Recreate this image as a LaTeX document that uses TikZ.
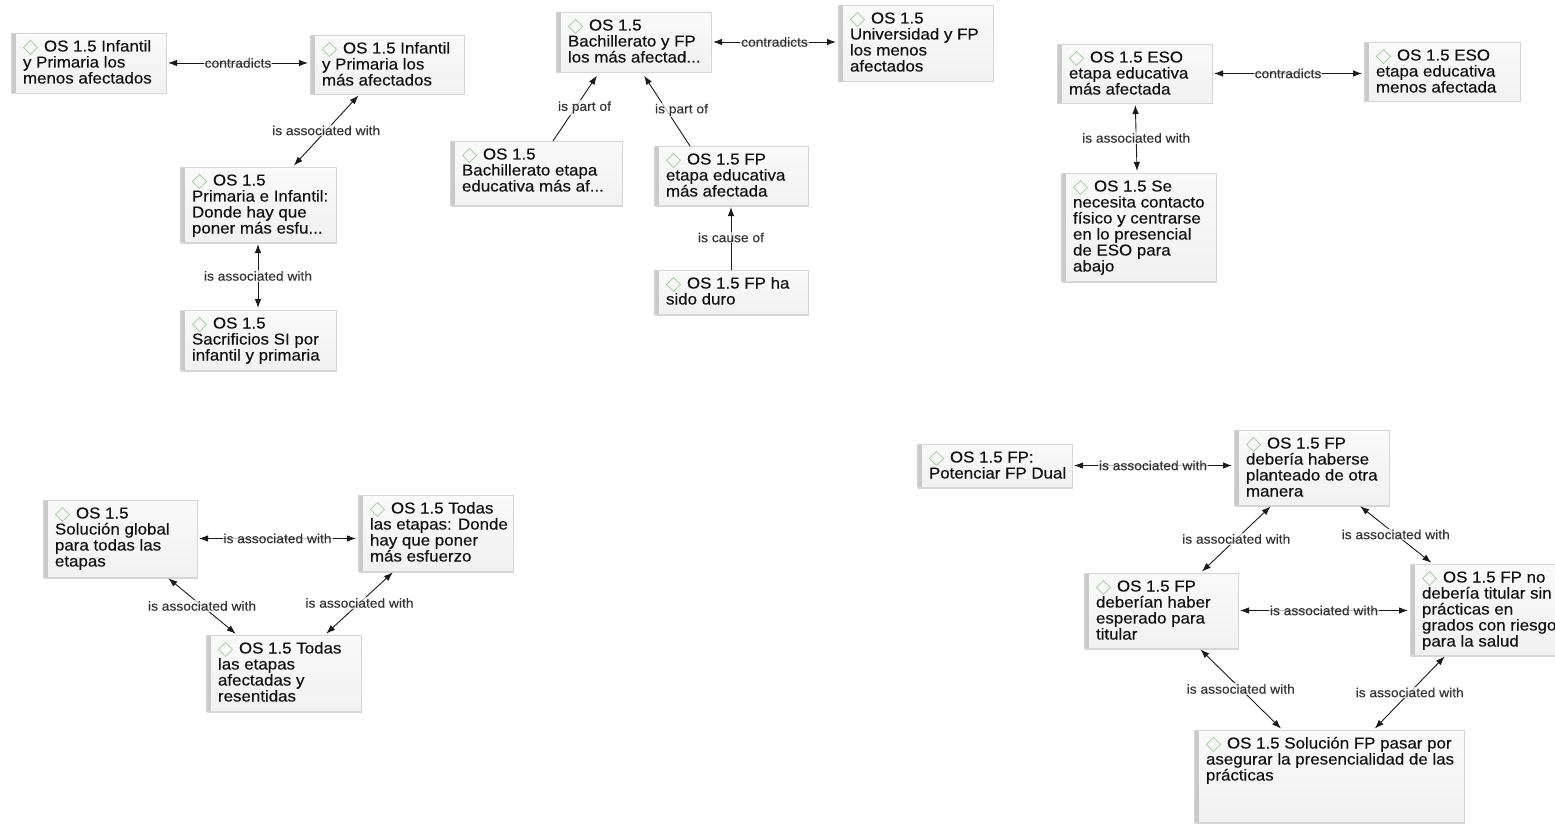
\documentclass[tikz,border=0pt]{standalone}
\usepackage{fontspec}
\setmainfont{Liberation Sans}[FakeStretch=1.06]
\newfontfamily\cardfont{Liberation Sans}[FakeStretch=1.07,FakeBold=0.35]
\newfontfamily\lblfont{Liberation Sans}[FakeStretch=1.06,FakeBold=0.15]
\usetikzlibrary{arrows.meta,calc,shadows}

\definecolor{cardline}{HTML}{D6D6D6}
\definecolor{cardtop}{HTML}{FAFAFA}
\definecolor{cardbot}{HTML}{F1F1F1}
\definecolor{cardbar}{HTML}{CACACA}
\definecolor{cardtxt}{HTML}{111111}
\definecolor{diamcol}{HTML}{ACD4A4}
\definecolor{edgecol}{HTML}{1A1A1A}
\definecolor{lblcol}{HTML}{333333}

\tikzset{
  card/.style={draw=cardline, line width=0.6pt, top color=cardtop, bottom color=cardbot,
    inner sep=0pt, outer sep=0pt, anchor=north west, text=cardtxt,
    font=\cardfont\fontsize{15.8}{16}\selectfont,
    path picture={\fill[cardbar] (path picture bounding box.north west)
      rectangle ([xshift=5pt]path picture bounding box.south west);},
    drop shadow={shadow xshift=1pt, shadow yshift=-1.5pt, opacity=0.16, fill=black}},
  diam/.style={draw=diamcol, line width=0.8pt, line join=miter},
  tipA/.tip={Latex[length=9pt,width=6.5pt]},
  both/.style={draw=edgecol, line width=0.9pt, tipA-tipA, shorten <=2pt, shorten >=2pt},
  onedir/.style={draw=edgecol, line width=0.9pt, -tipA, shorten >=2pt},
  lbl/.style={font=\lblfont\fontsize{13}{14}\selectfont, text=lblcol, fill=white,
    fill opacity=0.7, text opacity=1, inner sep=1pt}
}

% text block of a card: grey bar margin on the left, first line leaves room for the diamond
\newcommand\mycardtext[3]{\kern12pt\parbox[t][#2pt][t]{\dimexpr#1pt-16pt\relax}{\raggedright\rule{0pt}{18.5pt}\hspace*{21pt}#3}\kern4pt}
% card: name, x, y, width, height, text
\newcommand\mycard[6]{%
  \node[card] (#1) at (#2,#3) {\mycardtext{#4}{#5}{#6}};
  \draw[diam] ($(#1.north west)+(19.5,7.5)$) -- ++(7,7) -- ++(-7,7) -- ++(-7,-7) -- cycle;
}

\begin{document}
\begin{tikzpicture}[x=1pt,y=-1pt]
\useasboundingbox (0,0) rectangle (1555,824);

% infantil / primaria
\mycard{a1}{11}{33}{155}{60}{OS 1.5 Infantil\\y Primaria los\\menos afectados}
\mycard{a2}{310}{35}{154}{59}{OS 1.5 Infantil\\y Primaria los\\más afectados}
\mycard{a3}{180}{167}{156}{75}{OS 1.5\\Primaria e Infantil:\\Donde hay que\\poner más esfu...}
\mycard{a4}{180}{310}{156}{60}{OS 1.5\\Sacrificios SI por\\infantil y primaria}

% bachillerato / FP
\mycard{b1}{556}{12}{155}{60}{OS 1.5\\Bachillerato y FP\\los más afectad...}
\mycard{b2}{838}{5}{155}{76}{OS 1.5\\Universidad y FP\\los menos\\afectados}
\mycard{b3}{450}{141}{172}{64}{OS 1.5\\Bachillerato etapa\\educativa más af...}
\mycard{b4}{654}{146}{154}{59}{OS 1.5 FP\\etapa educativa\\más afectada}
\mycard{b5}{654}{270}{154}{44}{OS 1.5 FP ha\\sido duro}

% ESO
\mycard{c1}{1057}{44}{155}{59}{OS 1.5 ESO\\etapa educativa\\más afectada}
\mycard{c2}{1364}{42}{156}{59}{OS 1.5 ESO\\etapa educativa\\menos afectada}
\mycard{c3}{1061}{173}{155}{108}{OS 1.5 Se\\necesita contacto\\físico y centrarse\\en lo presencial\\de ESO para\\abajo}

% todas las etapas
\mycard{d1}{43}{500}{154}{77}{OS 1.5\\Solución global\\para todas las\\etapas}
\mycard{d2}{358}{495}{155}{76}{OS 1.5 Todas\\las etapas: Donde\\hay que poner\\más esfuerzo}
\mycard{d3}{206}{635}{155}{76}{OS 1.5 Todas\\las etapas\\afectadas y\\resentidas}

% FP soluciones
\mycard{e1}{917}{444}{155}{43}{OS 1.5 FP:\\Potenciar FP Dual}
\mycard{e2}{1234}{430}{155}{75}{OS 1.5 FP\\debería haberse\\planteado de otra\\manera}
\mycard{e3}{1084}{573}{154}{75}{OS 1.5 FP\\deberían haber\\esperado para\\titular}
\mycard{e4}{1410}{564}{160}{91}{OS 1.5 FP no\\debería titular sin\\prácticas en\\grados con riesgo\\para la salud}
\mycard{e5}{1194}{730}{270}{92}{OS 1.5 Solución FP pasar por\\asegurar la presencialidad de las\\prácticas}

% connectors
\draw[both] (a1.east) -- (a1.east -| a2.west) node[lbl, pos=.5] (la1) {contradicts};
\draw[both] (a2) -- (a3) node[lbl, pos=.5] (la2) {is associated with};
\draw[both] (a3) -- (a4) node[lbl, pos=.5] (la3) {is associated with};

\draw[both] (b1.east) -- (b1.east -| b2.west) node[lbl, pos=.5] (lb1) {contradicts};
\draw[onedir] ($(b3.north west)+(103,0)$) -- ($(b1.south west)+(42,2)$) node[lbl, pos=.5, xshift=9pt] (lb2) {is part of};
\draw[onedir] ($(b4.north west)+(36,0)$) -- ($(b1.south west)+(87,2)$) node[lbl, pos=.5, xshift=15pt] (lb3) {is part of};
\draw[onedir] (b5) -- (b4) node[lbl, pos=.5] (lb4) {is cause of};

\draw[both] (c1.east) -- (c1.east -| c2.west) node[lbl, pos=.5] (lc1) {contradicts};
\draw[both] (c1) -- (c3) node[lbl, pos=.5] (lc2) {is associated with};

\draw[both] (d1.east) -- (d1.east -| d2.west) node[lbl, pos=.5] (ld1) {is associated with};
\draw[both] (d1) -- (d3) node[lbl, pos=.5] (ld2) {is associated with};
\draw[both] (d2) -- (d3) node[lbl, pos=.5] (ld3) {is associated with};

\draw[both] (e1.east) -- (e1.east -| e2.west) node[lbl, pos=.5] (le1) {is associated with};
\draw[both] (e2) -- (e3) node[lbl, pos=.5] (le2) {is associated with};
\draw[both] (e2) -- (e4) node[lbl, pos=.5] (le3) {is associated with};
\draw[both] (e3.east) -- (e3.east -| e4.west) node[lbl, pos=.5] (le4) {is associated with};
\draw[both] (e3) -- (e5) node[lbl, pos=.5] (le5) {is associated with};
\draw[both] (e4) -- (e5) node[lbl, pos=.5] (le6) {is associated with};
\end{tikzpicture}
\end{document}
